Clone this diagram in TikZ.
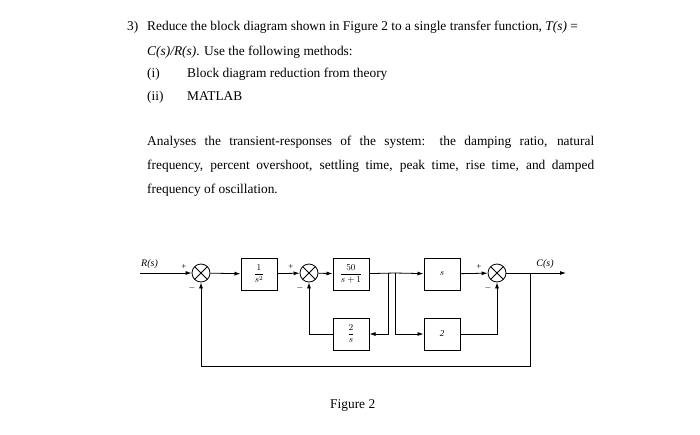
\documentclass[tikz,border=0pt]{standalone}
\usepackage{fontspec}
\setmainfont{Liberation Serif}
\usetikzlibrary{arrows.meta}
\begin{document}
\begin{tikzpicture}[x=1pt,y=-1pt,
  txt/.style={anchor=base west,inner sep=0pt,font=\fontsize{13.4}{16}\selectfont},
  blk/.style={draw,line width=1pt,minimum width=36pt,minimum height=32pt,inner sep=0pt,font=\fontsize{9}{10}\selectfont\itshape},
  sumj/.style={draw,circle,line width=0.8pt,minimum size=18pt,inner sep=0pt,
    path picture={\draw (path picture bounding box.north west)--(path picture bounding box.south east)
      (path picture bounding box.north east)--(path picture bounding box.south west);}},
  sg/.style={font=\fontsize{9}{10}\selectfont,inner sep=1pt},
  lab/.style={font=\fontsize{10}{11}\selectfont\itshape,inner sep=1pt},
  sig/.style={line width=0.8pt,-{Latex[length=6pt,width=4pt]}},
  ln/.style={line width=0.8pt}]
\useasboundingbox (0,0) rectangle (700,434);
\node[txt] (t1) at (127,30) {3)};
\node[txt] (t2) at (147,30) {Reduce the block diagram shown in Figure 2 to a single transfer function, \textit{T(s)} =};
\node[txt] (t3) at (147,55) {\textit{C(s)/R(s)}. Use the following methods:};
\node[txt] (t4) at (147,77) {(i)};
\node[txt] (t5) at (187,77) {Block diagram reduction from theory};
\node[txt] (t6) at (147,100) {(ii)};
\node[txt] (t7) at (187,100) {MATLAB};
\node[anchor=north west,inner sep=0pt,text width=447pt,align=justify,font=\fontsize{13.4}{24}\selectfont] (p) at (147,136)
 {Analyses the transient-responses of the system: the damping ratio, natural\linebreak frequency, percent overshoot, settling time, peak time, rise time, and damped\linebreak frequency of oscillation.};
\node[txt] (fig) at (330,408) {Figure 2};
% diagram
\node[sumj] (s1) at (201,273) {};
\node[blk] (g1) at (259,274) {$\displaystyle\frac{1}{s^2}$};
\node[sumj] (s2) at (309,273) {};
\node[blk] (g2) at (351,274) {$\displaystyle\frac{50}{s+1}$};
\node[blk] (g3) at (442,274) {$s$};
\node[sumj] (s3) at (497,273) {};
\node[blk] (h1) at (351,334) {$\displaystyle\frac{2}{s}$};
\node[blk] (h2) at (442,334) {2};
\coordinate (in) at (140,273);
\coordinate (out) at (566,273);
\coordinate (b1) at (388,273);
\coordinate (b2) at (395,273);
\coordinate (b3) at (530,273);
\node[lab,anchor=south west] at (140,270) {R(s)};
\node[lab,anchor=south] at (545,270) {C(s)};
\node[sg] at (184,267) {+};
\node[sg] at (192,288) {$-$};
\node[sg] at (291,267) {+};
\node[sg] at (300,288) {$-$};
\node[sg] at (479,267) {+};
\node[sg] at (488,288) {$-$};
\draw[sig] (in) -- (s1);
\draw[sig] (s1) -- (g1);
\draw[sig] (g1) -- (s2);
\draw[sig] (s2) -- (g2);
\draw[ln] (g2) -- (b2);
\draw[sig] (b2) -- (g3);
\draw[sig] (g3) -- (s3);
\draw[sig] (s3) -- (out);
\draw[sig] (b1) |- (h1);
\draw[sig] (h1) -| (s2);
\draw[sig] (b2) |- (h2);
\draw[sig] (h2) -| (s3);
\draw[sig] (b3) |- (201,366) -- (s1);
\end{tikzpicture}
\end{document}
